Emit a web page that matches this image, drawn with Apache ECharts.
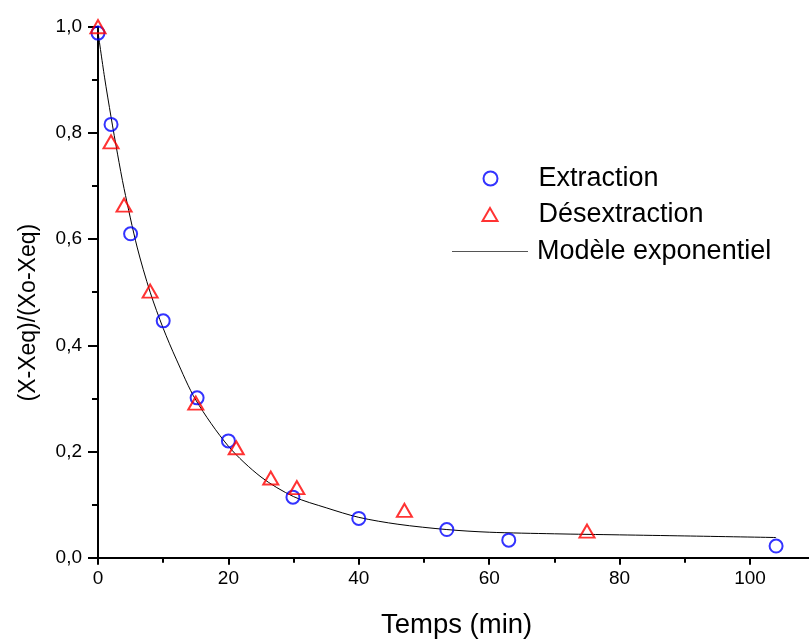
<!DOCTYPE html>
<html>
<head>
<meta charset="utf-8">
<script src="https://cdn.jsdelivr.net/npm/echarts@6/dist/echarts.min.js"></script>
<style>
html,body{margin:0;padding:0;background:#fff;}
#chart{width:809px;height:639px;}
</style>
</head>
<body>
<div id="chart"></div>
<script>
// Extraction (blue circles)
var extractionT = [0, 2, 5, 10, 15.2, 20, 29.9, 40, 53.5, 63, 104];
var extractionY = [0.988, 0.816, 0.61, 0.446, 0.301, 0.22, 0.114, 0.074, 0.053, 0.033, 0.022];
// Désextraction (red triangles)
var desextractionT = [0, 2, 4, 8, 15, 21.2, 26.5, 30.5, 47, 75];
var desextractionY = [1.0, 0.783, 0.664, 0.502, 0.291, 0.207, 0.15, 0.132, 0.089, 0.05];
// Modèle exponentiel (curve)
var modelT = [0, 1, 2, 3, 4, 6, 8, 10, 12, 15, 20, 25, 30, 35, 40, 46, 53.5, 60, 70, 80, 90, 104];
var modelY = [0.99, 0.905, 0.83, 0.76, 0.695, 0.585, 0.50, 0.432, 0.374, 0.297, 0.21, 0.152, 0.115, 0.094, 0.076, 0.063, 0.053, 0.048, 0.045, 0.043, 0.041, 0.038];
var xTickLabels = [0, 20, 40, 60, 80, 100];
var seriesNames = ['Extraction', 'Désextraction', 'Modèle exponentiel'];

function pairs(xs, ys) { return xs.map(function (x, i) { return [x, ys[i]]; }); }

var FONT = '"Liberation Sans", Arial, Helvetica, sans-serif';
function legendTextPad(p) {
  return {fontFamily: FONT, fontSize: 27, lineHeight: 27, color: '#000', padding: [0, 0, 0, p]};
}

var chart = echarts.init(document.getElementById('chart'), null, {renderer: 'canvas'});
chart.setOption({
  backgroundColor: '#ffffff',
  animation: false,
  grid: {left: 98, top: 26.7, height: 531, width: 717.2, containLabel: false, outerBoundsMode: 'none'},
  legend: [
    {
      orient: 'vertical', left: 482.5, top: 165, padding: 0,
      itemWidth: 14, itemHeight: 14,
      data: [{name: seriesNames[0], icon: 'circle'}],
      textStyle: legendTextPad(36)
    },
    {
      orient: 'vertical', left: 481.5, top: 201, padding: 0,
      itemWidth: 15, itemHeight: 13,
      data: [{name: seriesNames[1], icon: 'triangle'}],
      textStyle: legendTextPad(36)
    },
    {
      orient: 'vertical', left: 452, top: 238, padding: 0,
      itemWidth: 76, itemHeight: 1,
      data: [{name: seriesNames[2], icon: 'rect', itemStyle: {color: '#555', borderWidth: 0}}],
      textStyle: legendTextPad(4)
    }
  ],
  xAxis: {
    type: 'value', min: 0, max: 110, interval: 20,
    name: 'Temps (min)', nameLocation: 'middle', nameGap: 54,
    nameTextStyle: {fontFamily: FONT, fontSize: 27.5, color: '#000'},
    axisLine: {show: true, onZero: false, lineStyle: {color: '#000', width: 2}},
    axisTick: {show: true, inside: false, length: 7, lineStyle: {color: '#000', width: 2}},
    minorTick: {show: true, splitNumber: 2, length: 5, lineStyle: {color: '#000', width: 2}},
    splitLine: {show: false},
    axisLabel: {fontFamily: FONT, fontSize: 19, color: '#000', margin: 12,
      formatter: function (v) { return xTickLabels.indexOf(v) >= 0 ? String(v) : ''; }}
  },
  yAxis: {
    type: 'value', min: 0, max: 1.0, interval: 0.2,
    name: '(X-Xeq)/(Xo-Xeq)', nameLocation: 'middle', nameGap: 58,
    nameTextStyle: {fontFamily: FONT, fontSize: 23, color: '#000', padding: [0, 41, 0, 0]},
    axisLine: {show: true, onZero: false, lineStyle: {color: '#000', width: 2}},
    axisTick: {show: true, inside: false, length: 10, lineStyle: {color: '#000', width: 2}},
    minorTick: {show: true, splitNumber: 2, length: 6, lineStyle: {color: '#000', width: 2}},
    splitLine: {show: false},
    axisLabel: {fontFamily: FONT, fontSize: 19, color: '#000', margin: 16,
      formatter: function (v) { return v.toFixed(1).replace('.', ','); }}
  },
  series: [
    {
      name: seriesNames[2], type: 'line', data: pairs(modelT, modelY),
      smooth: 0.3, symbol: 'none', showSymbol: false,
      lineStyle: {color: '#000', width: 1}, itemStyle: {color: '#000'}, z: 1
    },
    {
      name: seriesNames[0], type: 'scatter', data: pairs(extractionT, extractionY),
      symbol: 'circle', symbolSize: 13,
      itemStyle: {color: 'rgba(0,0,0,0)', borderColor: '#0000ff', borderWidth: 2}, z: 2
    },
    {
      name: seriesNames[1], type: 'scatter', data: pairs(desextractionT, desextractionY),
      symbol: 'triangle', symbolSize: [15, 13],
      itemStyle: {color: 'rgba(0,0,0,0)', borderColor: '#ff0000', borderWidth: 2}, z: 2
    }
  ]
});
</script>
</body>
</html>
